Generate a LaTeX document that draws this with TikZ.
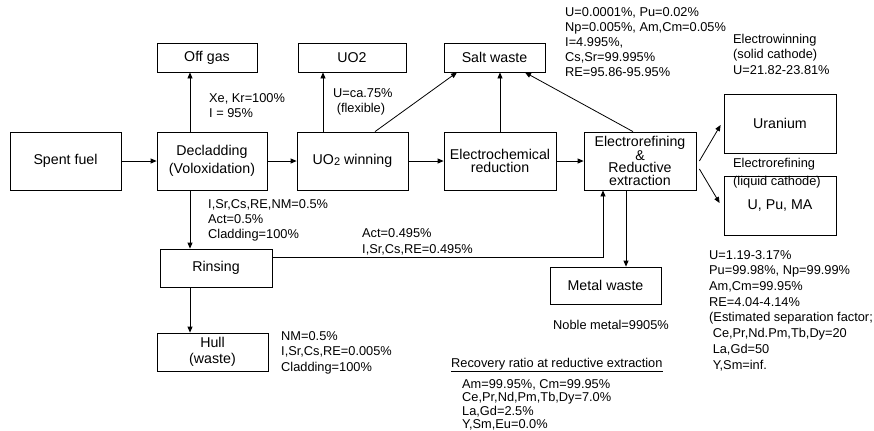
\documentclass[tikz,border=0pt]{standalone}
\usepackage{fontspec}
\setmainfont{Liberation Sans}
\usetikzlibrary{arrows.meta,calc}
\begin{document}
\begin{tikzpicture}[x=1bp,y=-1bp,
  box/.style={draw, line width=0.8bp, inner sep=0pt, align=center, font=\fontsize{14.2bp}{17bp}\selectfont},
  note/.style={anchor=north west, inner sep=0pt, align=left, font=\fontsize{12.8bp}{15bp}\selectfont},
  arr/.style={line width=0.8bp, -{Triangle[length=6bp,width=5bp]}}]
\useasboundingbox (0,0) rectangle (874,430);
% boxes
\node[box, minimum width=111bp, minimum height=58bp] (spent) at (65.5,161) {Spent fuel};
\node[box, minimum width=110bp, minimum height=58bp, font=\fontsize{14.2bp}{18bp}\selectfont] (declad) at (212,161) {Decladding\\(Voloxidation)};
\node[box, minimum width=111bp, minimum height=58bp] (uo2w) at (352.5,161) {UO{\fontsize{11bp}{11bp}\selectfont\raisebox{-0.5bp}{2}} winning};
\node[box, minimum width=112bp, minimum height=58bp, font=\fontsize{14.2bp}{13bp}\selectfont] (ecr) at (500,161) {Electrochemical\\reduction};
\node[box, minimum width=112bp, minimum height=58bp, font=\fontsize{14.2bp}{12.7bp}\selectfont] (erf) at (640,161) {Electrorefining\\\&\\Reductive\\extraction};
\node[box, minimum width=100bp, minimum height=29bp] (offgas) at (207,57.5) {Off gas};
\node[box, minimum width=108bp, minimum height=29bp] (uo2) at (352,57.5) {UO2};
\node[box, minimum width=101bp, minimum height=29bp] (salt) at (494.5,57.5) {Salt waste};
\node[box, minimum width=112bp, minimum height=59bp] (uranium) at (780,123.5) {Uranium};
\node[box, minimum width=112bp, minimum height=59bp] (upuma) at (780,205.5) {U, Pu, MA};
\node[box, minimum width=111bp, minimum height=37bp] (metal) at (605.5,285.5) {Metal waste};
\node[box, minimum width=112bp, minimum height=38bp] (rinsing) at (216,268) {Rinsing};
\node[box, minimum width=111bp, minimum height=38bp, font=\fontsize{14.2bp}{16bp}\selectfont] (hull) at (212.5,352) {Hull\\(waste)};
% helper coordinates
\coordinate (xa) at (190,0);
\coordinate (xb) at (323,0);
\coordinate (xc) at (375,0);
\coordinate (xd) at (457,0);
\coordinate (xe) at (500,0);
\coordinate (xf) at (633,0);
\coordinate (xg) at (525,0);
\coordinate (xh) at (603,0);
\coordinate (xi) at (626,0);
\coordinate (yr) at (0,257);
% connectors
\draw[arr] (spent) -- (declad);
\draw[arr] (declad) -- (uo2w);
\draw[arr] (uo2w) -- (ecr);
\draw[arr] (ecr) -- (erf);
\draw[arr] (declad.north -| xa) -- (offgas.south -| xa);
\draw[arr] (declad.south -| xa) -- (rinsing.north -| xa);
\draw[arr] (rinsing.south -| xa) -- (hull.north -| xa);
\draw[arr] (uo2w.north -| xb) -- (uo2.south -| xb);
\draw[arr] (uo2w.north -| xc) -- (salt.south -| xd);
\draw[arr] (ecr.north -| xe) -- (salt.south -| xe);
\draw[arr] (erf.north -| xf) -- (salt.south -| xg);
\draw[arr] (rinsing.east |- yr) -| (erf.south -| xh);
\draw[arr] (erf.south -| xi) -- (metal.north -| xi);
\draw[arr] ($(erf.east)+(3,0)$) -- ($(uranium.west)+(-3,1.5)$);
\draw[arr] ($(erf.east)+(3,8)$) -- ($(upuma.west)+(-4,-2.5)$);
% annotations
\node[note] (t1) at (209,93) {Xe, Kr=100\%\\I = 95\%};
\node[note] (t2) at (333,88) {U=ca.75\%\\\ (flexible)};
\node[note] (t3) at (565,7) {U=0.0001\%, Pu=0.02\%\\Np=0.005\%, Am,Cm=0.05\%\\I=4.995\%,\\Cs,Sr=99.995\%\\RE=95.86-95.95\%};
\node[note, font=\fontsize{12.8bp}{15.5bp}\selectfont] (t4) at (733,34) {Electrowinning\\(solid cathode)\\U=21.82-23.81\%};
\node[note, font=\fontsize{12.8bp}{18bp}\selectfont] (t5) at (733,158) {Electrorefining\\(liquid cathode)};
\node[note] (t6) at (208,199) {I,Sr,Cs,RE,NM=0.5\%\\Act=0.5\%\\Cladding=100\%};
\node[note, font=\fontsize{12.8bp}{16bp}\selectfont] (t7) at (362,228) {Act=0.495\%\\I,Sr,Cs,RE=0.495\%};
\node[note] (t8) at (553,320) {Noble metal=9905\%};
\node[note, font=\fontsize{12.8bp}{15.5bp}\selectfont] (t9) at (281,331) {NM=0.5\%\\I,Sr,Cs,RE=0.005\%\\Cladding=100\%};
\node[note] (t10) at (451,358) {\underline{Recovery ratio at reductive extraction}};
\node[note, font=\fontsize{12.8bp}{13.5bp}\selectfont] (t11) at (462,379) {Am=99.95\%, Cm=99.95\%\\Ce,Pr,Nd,Pm,Tb,Dy=7.0\%\\La,Gd=2.5\%\\Y,Sm,Eu=0.0\%};
\node[note, font=\fontsize{12.8bp}{15.7bp}\selectfont] (t12) at (709,250) {U=1.19-3.17\%\\Pu=99.98\%, Np=99.99\%\\Am,Cm=99.95\%\\RE=4.04-4.14\%\\(Estimated separation factor;\\\ Ce,Pr,Nd.Pm,Tb,Dy=20\\\ La,Gd=50\\\ Y,Sm=inf.};
\end{tikzpicture}
\end{document}
